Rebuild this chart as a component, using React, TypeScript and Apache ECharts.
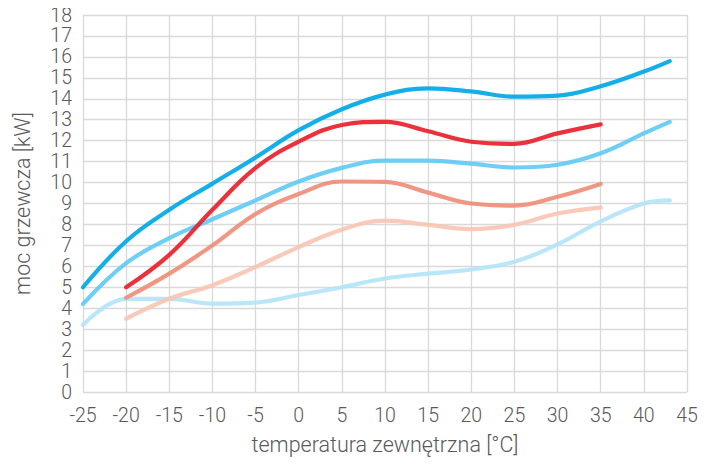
import React, { useEffect, useRef } from "react";
import * as echarts from "echarts";

const blueX = [-25, -20, -15, -10, -5, 0, 5, 10, 15, 20, 25, 30, 35, 40, 43];
const redX = [-20, -15, -10, -5, 0, 5, 10, 15, 20, 25, 30, 35];

const darkBlue = [5.0, 7.2, 8.7, 9.95, 11.2, 12.5, 13.5, 14.2, 14.5, 14.35, 14.1, 14.15, 14.6, 15.3, 15.8];
const midBlue = [4.2, 6.15, 7.35, 8.25, 9.15, 10.05, 10.7, 11.05, 11.05, 10.9, 10.72, 10.85, 11.4, 12.35, 12.9];
const lightBlue = [3.2, 4.45, 4.45, 4.22, 4.27, 4.63, 5.0, 5.42, 5.65, 5.85, 6.22, 7.05, 8.15, 9.0, 9.15];

const red = [5.0, 6.55, 8.7, 10.7, 11.95, 12.75, 12.9, 12.45, 11.95, 11.85, 12.35, 12.78];
const salmon = [4.5, 5.65, 7.0, 8.5, 9.45, 10.05, 10.03, 9.52, 9.0, 8.9, 9.32, 9.93];
const peach = [3.5, 4.45, 5.1, 5.97, 6.92, 7.75, 8.18, 7.98, 7.78, 7.98, 8.52, 8.8];

const xTicks = { min: -25, max: 45, interval: 5 };
const yTicks = { min: 0, max: 18, interval: 1 };

const pair = (xs: number[], ys: number[]) => xs.map((x, i) => [x, ys[i]]);

export default function App() {
  const ref = useRef<HTMLDivElement>(null);
  useEffect(() => {
    if (!ref.current) return;
    const chart = echarts.init(ref.current, undefined, { renderer: "svg" });
    const font = "Roboto";
    const textColor = "#595959";
    const mk = (name: string, data: number[][], color: string, width: number) => ({
      name,
      type: "line",
      data,
      smooth: 0.4,
      showSymbol: false,
      symbol: "none",
      lineStyle: { color, width, cap: "round", join: "round", opacity: 0.92 },
      z: 2,
    });
    chart.setOption({
      animation: false,
      backgroundColor: "#ffffff",
      grid: { left: 83, right: 29, top: 15, bottom: 73, containLabel: false },
      xAxis: {
        type: "value",
        ...xTicks,
        name: "temperatura zewnętrzna [°C]",
        nameLocation: "middle",
        nameGap: 41,
        nameTextStyle: { color: textColor, fontSize: 21.5, fontFamily: font, fontWeight: 300 },
        axisLine: { show: false },
        axisTick: { show: false },
        axisLabel: { color: textColor, fontSize: 19.5, fontFamily: font, fontWeight: 300, margin: 13 },
        splitLine: { show: true, lineStyle: { color: "#d9d9d9", width: 1.3 } },
      },
      yAxis: {
        type: "value",
        ...yTicks,
        name: "moc grzewcza [kW]",
        nameLocation: "middle",
        nameGap: 50,
        nameTextStyle: { color: textColor, fontSize: 21.5, fontFamily: font, fontWeight: 300 },
        axisLine: { show: false },
        axisTick: { show: false },
        axisLabel: { color: textColor, fontSize: 19.5, fontFamily: font, fontWeight: 300, margin: 11 },
        splitLine: { show: true, lineStyle: { color: "#d9d9d9", width: 1.3 } },
      },
      series: [
        mk("light blue", pair(blueX, lightBlue), "#b3e4f9", 4.2),
        mk("peach", pair(redX, peach), "#f8c5b3", 4.2),
        mk("salmon", pair(redX, salmon), "#ef8e7a", 4.2),
        mk("mid blue", pair(blueX, midBlue), "#62caf4", 4.2),
        mk("red", pair(redX, red), "#e8202b", 4.2),
        mk("dark blue", pair(blueX, darkBlue), "#00a8e6", 4.2),
      ],
    });
    return () => chart.dispose();
  }, []);
  return <div ref={ref} style={{ width: 716, height: 465, margin: -8 }} />;
}
